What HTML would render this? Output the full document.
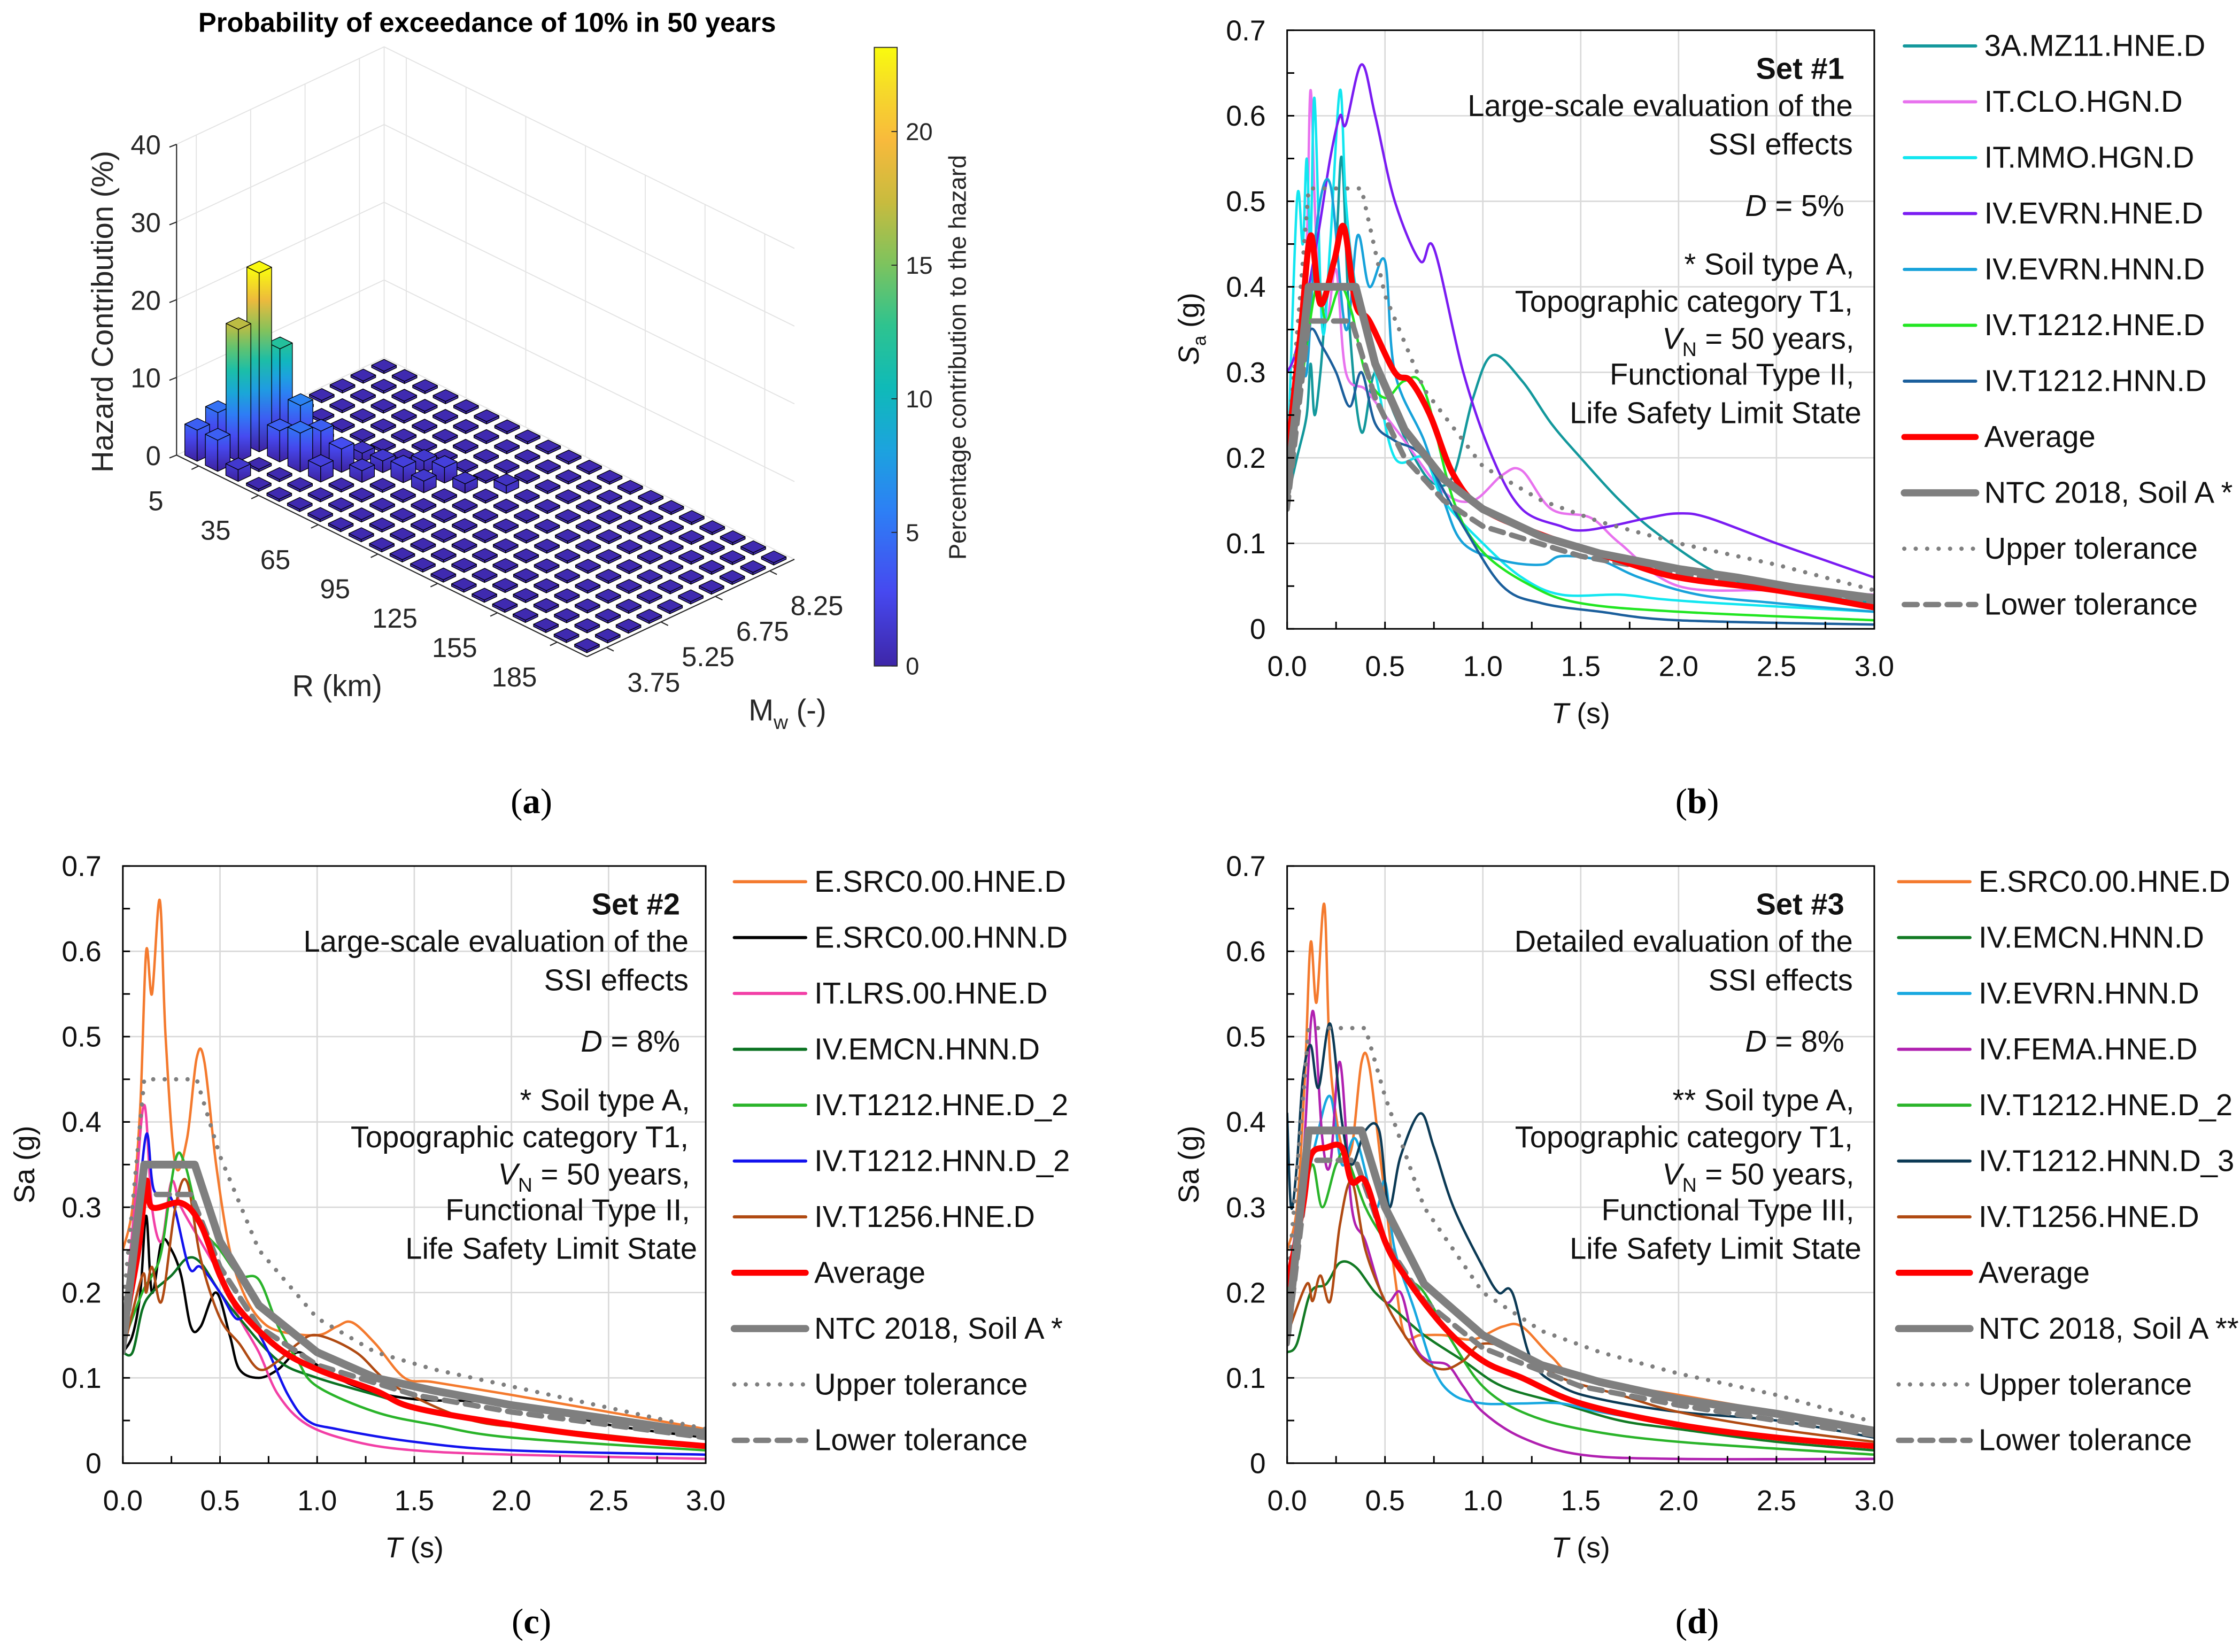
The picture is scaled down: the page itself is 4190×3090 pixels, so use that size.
<!DOCTYPE html>
<html><head><meta charset="utf-8">
<style>
html,body{margin:0;padding:0;background:#fff;}
svg{display:block;font-family:"Liberation Sans",sans-serif;}
</style></head>
<body>
<svg id="fig" width="4190" height="3090" viewBox="0 0 1568 1156" xmlns="http://www.w3.org/2000/svg">
<defs>
<linearGradient id="cbgrad" x1="0" y1="1" x2="0" y2="0"></linearGradient>
</defs>
<rect x="0" y="0" width="1568" height="1156" fill="#fff"/>

<g id="panelA">
<text x="341" y="22" font-size="19" font-weight="bold" text-anchor="middle">Probability of exceedance of 10% in 50 years</text>
<text transform="translate(79,218) rotate(-90)" font-size="21" text-anchor="middle" fill="#262626">Hazard Contribution (%)</text>
<text x="236" y="487" font-size="21" text-anchor="middle" fill="#262626">R (km)</text>
<text x="524" y="504" font-size="21" fill="#262626">M<tspan font-size="14" dy="6">w</tspan><tspan dy="-6"> (-)</tspan></text>
<text transform="translate(676,250) rotate(-90)" font-size="17" text-anchor="middle" fill="#262626">Percentage contribution to the hazard</text>
</g>

<g id="notes" font-size="21" fill="#111" text-anchor="end">
<g>
<text x="1291" y="55" font-weight="bold">Set #1</text>
<text x="1297" y="81">Large-scale evaluation of the</text>
<text x="1297" y="108">SSI effects</text>
<text x="1291" y="151"><tspan font-style="italic">D</tspan> = 5%</text>
<text x="1298" y="192">* Soil type A,</text>
<text x="1297" y="218">Topographic category T1,</text>
<text x="1298" y="244"><tspan font-style="italic">V</tspan><tspan font-size="14" dy="5">N</tspan><tspan dy="-5"> = 50 years,</tspan></text>
<text x="1298" y="269">Functional Type II,</text>
<text x="1303" y="296">Life Safety Limit State</text>
</g>
<g transform="translate(-815,585)">
<text x="1291" y="55" font-weight="bold">Set #2</text>
<text x="1297" y="81">Large-scale evaluation of the</text>
<text x="1297" y="108">SSI effects</text>
<text x="1291" y="151"><tspan font-style="italic">D</tspan> = 8%</text>
<text x="1298" y="192">* Soil type A,</text>
<text x="1297" y="218">Topographic category T1,</text>
<text x="1298" y="244"><tspan font-style="italic">V</tspan><tspan font-size="14" dy="5">N</tspan><tspan dy="-5"> = 50 years,</tspan></text>
<text x="1298" y="269">Functional Type II,</text>
<text x="1303" y="296">Life Safety Limit State</text>
</g>
<g transform="translate(0,585)">
<text x="1291" y="55" font-weight="bold">Set #3</text>
<text x="1297" y="81">Detailed evaluation of the</text>
<text x="1297" y="108">SSI effects</text>
<text x="1291" y="151"><tspan font-style="italic">D</tspan> = 8%</text>
<text x="1298" y="192">** Soil type A,</text>
<text x="1297" y="218">Topographic category T1,</text>
<text x="1298" y="244"><tspan font-style="italic">V</tspan><tspan font-size="14" dy="5">N</tspan><tspan dy="-5"> = 50 years,</tspan></text>
<text x="1298" y="269">Functional Type III,</text>
<text x="1303" y="296">Life Safety Limit State</text>
</g>
</g>

<g font-family="Liberation Serif, serif" font-size="25" text-anchor="middle" fill="#000">
<text x="372" y="569">(<tspan font-weight="bold">a</tspan>)</text>
<text x="1188" y="569">(<tspan font-weight="bold">b</tspan>)</text>
<text x="372" y="1143">(<tspan font-weight="bold">c</tspan>)</text>
<text x="1188" y="1143">(<tspan font-weight="bold">d</tspan>)</text>
</g>
</svg>

<script>
// ================= DATA: panel (a) 3D histogram =================
const rCenters = [5,15,25,35,45,55,65,75,85,95,105,115,125,135,145,155,165,175,185,195];
const mwCenters = [3.75,4.25,4.75,5.25,5.75,6.25,6.75,7.25,7.75,8.25];
const barR  = [5,5,15,15,15,15,25,25,25,35,35,45,45,55,55,65,75,65,85,75,45,95];
const barMw = [3.75,4.25,3.75,4.25,4.75,5.25,4.75,5.25,3.75,4.75,5.25,4.75,5.25,5.25,5.75,5.75,6.25,6.25,6.25,5.75,5.75,6.75];
const barVal= [4,5,4,17,23,12,4,6,1.5,5,4,2,3,1.5,1.5,2,2,1.5,1.2,1.5,1.2,1];
const floorVal = 0.3;
const zTicks = [0,10,20,30,40];
const rTicks = [5,35,65,95,125,155,185];
const mwTicks = [3.75,5.25,6.75,8.25];
const cbTicks = [0,5,10,15,20];
const cbMax = 23.15;

// ================= DATA: panel (b) =================
const b_mz11_T  = [0,0.05,0.1,0.12,0.14,0.17,0.2,0.25,0.28,0.32,0.38,0.45,0.55,0.65,0.75,0.85,0.95,1.05,1.2,1.35,1.5,1.7,1.9,2.2,2.5,3.0];
const b_mz11_Sa = [0.15,0.2,0.25,0.31,0.25,0.3,0.38,0.45,0.55,0.35,0.23,0.3,0.25,0.2,0.17,0.18,0.27,0.32,0.29,0.24,0.2,0.15,0.11,0.065,0.045,0.03];
const b_clo_T  = [0,0.06,0.1,0.12,0.15,0.2,0.25,0.3,0.4,0.5,0.6,0.8,0.95,1.1,1.2,1.35,1.55,1.7,2.0,2.5,3.0];
const b_clo_Sa = [0.17,0.3,0.45,0.63,0.45,0.36,0.42,0.3,0.28,0.25,0.22,0.16,0.15,0.18,0.185,0.14,0.13,0.1,0.05,0.045,0.04];
const b_mmo_T  = [0,0.05,0.08,0.1,0.12,0.14,0.18,0.22,0.27,0.3,0.35,0.45,0.55,0.7,0.8,1.0,1.2,1.4,1.7,1.9,2.2,3.0];
const b_mmo_Sa = [0.17,0.5,0.45,0.55,0.45,0.62,0.35,0.45,0.63,0.5,0.4,0.3,0.2,0.2,0.15,0.1,0.06,0.04,0.04,0.035,0.03,0.02];
const b_evrnE_T  = [0,0.05,0.15,0.22,0.27,0.3,0.38,0.45,0.55,0.68,0.75,0.9,1.05,1.2,1.4,1.5,1.65,1.85,2.0,2.15,2.5,2.75,3.0];
const b_evrnE_Sa = [0.3,0.33,0.45,0.55,0.6,0.59,0.66,0.6,0.5,0.43,0.445,0.3,0.2,0.14,0.12,0.115,0.12,0.13,0.135,0.13,0.1,0.08,0.06];
const b_evrnN_T  = [0,0.06,0.1,0.15,0.22,0.3,0.36,0.42,0.5,0.55,0.7,0.8,0.9,1.1,1.3,1.4,1.6,1.8,2.1,2.5,3.0];
const b_evrnN_Sa = [0.17,0.33,0.3,0.47,0.52,0.35,0.46,0.4,0.43,0.3,0.22,0.15,0.1,0.08,0.075,0.085,0.08,0.06,0.04,0.03,0.02];
const b_t1212E_T  = [0,0.08,0.15,0.2,0.27,0.33,0.4,0.5,0.6,0.7,0.85,1.0,1.25,1.5,2.0,3.0];
const b_t1212E_Sa = [0.2,0.3,0.4,0.36,0.4,0.37,0.3,0.27,0.29,0.28,0.15,0.09,0.05,0.03,0.02,0.01];
const b_t1212N_T  = [0,0.07,0.12,0.18,0.25,0.32,0.38,0.45,0.55,0.7,0.9,1.1,1.3,1.6,2.0,3.0];
const b_t1212N_Sa = [0.17,0.3,0.35,0.33,0.3,0.26,0.3,0.24,0.22,0.2,0.12,0.05,0.03,0.02,0.01,0.005];
const b_avg_T  = [0,0.07,0.12,0.17,0.24,0.29,0.35,0.42,0.55,0.63,0.73,0.85,1.0,1.3,1.7,2.0,2.5,3.0];
const b_avg_Sa = [0.2,0.35,0.46,0.38,0.43,0.47,0.38,0.36,0.3,0.29,0.25,0.18,0.14,0.11,0.08,0.06,0.045,0.025];
const b_ntc_T  = [0,0.11,0.35,0.45,0.6,0.8,1.0,1.3,1.6,2.0,2.3,2.6,3.0];
const b_ntc_Sa = [0.16,0.4,0.4,0.31,0.233,0.175,0.14,0.108,0.088,0.07,0.06,0.048,0.036];
const b_up_T  = [0,0.11,0.38,0.5,0.7,1.0,1.3,1.6,2.0,2.5,3.0];
const b_up_Sa = [0.2,0.515,0.515,0.39,0.28,0.19,0.15,0.125,0.1,0.075,0.045];
const b_lo_T  = [0,0.11,0.33,0.45,0.6,0.8,1.0,1.5,2.0,2.5,3.0];
const b_lo_Sa = [0.14,0.36,0.36,0.27,0.2,0.15,0.12,0.085,0.065,0.045,0.03];

// ================= DATA: panel (c) =================
const c_srcE_T  = [0,0.05,0.09,0.12,0.15,0.19,0.22,0.27,0.33,0.38,0.42,0.48,0.55,0.62,0.7,0.8,1.0,1.1,1.18,1.3,1.45,1.6,2.0,2.5,3.0];
const c_srcE_Sa = [0.25,0.3,0.42,0.6,0.55,0.66,0.5,0.35,0.38,0.475,0.47,0.35,0.25,0.2,0.17,0.155,0.15,0.16,0.165,0.14,0.1,0.095,0.08,0.06,0.04];
const c_srcN_T  = [0,0.05,0.09,0.12,0.15,0.2,0.25,0.3,0.35,0.4,0.48,0.55,0.6,0.7,0.8,0.9,1.0,1.2,1.5,2.0,2.5,3.0];
const c_srcN_Sa = [0.13,0.15,0.2,0.29,0.2,0.26,0.25,0.22,0.16,0.16,0.2,0.15,0.11,0.1,0.11,0.13,0.115,0.09,0.075,0.07,0.045,0.03];
const c_lrs_T  = [0,0.06,0.11,0.15,0.2,0.25,0.3,0.4,0.5,0.6,0.7,0.8,0.95,1.2,1.5,2.0,3.0];
const c_lrs_Sa = [0.15,0.3,0.42,0.3,0.26,0.33,0.3,0.26,0.22,0.17,0.13,0.08,0.045,0.025,0.015,0.01,0.005];
const c_emcn_T  = [0,0.05,0.1,0.15,0.25,0.33,0.4,0.5,0.6,0.8,1.0,1.3,1.6,2.0,2.5,3.0];
const c_emcn_Sa = [0.13,0.13,0.18,0.2,0.22,0.24,0.235,0.2,0.17,0.12,0.1,0.08,0.06,0.045,0.03,0.02];
const c_t1212E_T  = [0,0.1,0.15,0.2,0.27,0.32,0.4,0.5,0.6,0.7,0.8,0.9,1.0,1.3,1.6,2.0,3.0];
const c_t1212E_Sa = [0.14,0.2,0.22,0.25,0.355,0.35,0.28,0.25,0.22,0.215,0.16,0.12,0.09,0.06,0.045,0.03,0.015];
const c_t1212N_T  = [0,0.06,0.12,0.16,0.25,0.34,0.4,0.5,0.58,0.65,0.75,0.85,0.95,1.1,1.5,2.0,3.0];
const c_t1212N_Sa = [0.13,0.25,0.385,0.32,0.31,0.23,0.23,0.2,0.17,0.17,0.13,0.08,0.05,0.04,0.025,0.015,0.01];
const c_t1256_T  = [0,0.1,0.12,0.15,0.2,0.27,0.33,0.4,0.5,0.6,0.7,0.8,0.9,1.0,1.2,1.4,1.8,2.2,2.6,3.0];
const c_t1256_Sa = [0.13,0.22,0.2,0.23,0.19,0.3,0.33,0.24,0.17,0.14,0.11,0.12,0.14,0.15,0.13,0.09,0.05,0.04,0.03,0.02];
const c_avg_T  = [0,0.08,0.12,0.15,0.3,0.4,0.5,0.6,0.8,1.0,1.3,1.5,2.0,2.5,3.0];
const c_avg_Sa = [0.15,0.25,0.33,0.3,0.305,0.28,0.22,0.18,0.135,0.11,0.085,0.065,0.045,0.03,0.02];
const c_ntc_T  = [0,0.11,0.37,0.5,0.7,1.0,1.3,1.6,2.0,2.5,3.0];
const c_ntc_Sa = [0.14,0.35,0.35,0.26,0.185,0.13,0.1,0.085,0.068,0.052,0.035];
const c_up_T  = [0,0.11,0.38,0.5,0.7,1.0,1.3,1.6,2.0,2.5,3.0];
const c_up_Sa = [0.18,0.45,0.45,0.36,0.25,0.17,0.13,0.11,0.09,0.065,0.04];
const c_lo_T  = [0,0.11,0.35,0.5,0.7,1.0,1.5,2.0,2.5,3.0];
const c_lo_Sa = [0.13,0.315,0.315,0.23,0.16,0.115,0.08,0.06,0.045,0.03];

// ================= DATA: panel (d) =================
const d_srcE_T  = [0,0.05,0.09,0.12,0.15,0.19,0.22,0.28,0.33,0.38,0.42,0.48,0.55,0.6,0.68,0.8,0.95,1.1,1.2,1.35,1.5,2.0,2.5,3.0];
const d_srcE_Sa = [0.25,0.3,0.45,0.61,0.54,0.655,0.47,0.37,0.37,0.47,0.465,0.35,0.22,0.15,0.15,0.15,0.145,0.16,0.16,0.125,0.1,0.08,0.06,0.04];
const d_emcn_T  = [0,0.05,0.12,0.2,0.27,0.35,0.45,0.55,0.7,0.9,1.1,1.4,1.7,2.0,2.5,3.0];
const d_emcn_Sa = [0.13,0.14,0.2,0.21,0.235,0.23,0.2,0.18,0.15,0.12,0.09,0.07,0.05,0.04,0.025,0.015];
const d_evrn_T  = [0,0.08,0.15,0.22,0.28,0.35,0.45,0.5,0.55,0.65,0.75,0.85,1.0,1.2,1.4,1.6,2.0,2.5,3.0];
const d_evrn_Sa = [0.17,0.3,0.38,0.43,0.35,0.38,0.3,0.33,0.25,0.18,0.11,0.08,0.07,0.07,0.07,0.06,0.045,0.03,0.02];
const d_fema_T  = [0,0.08,0.13,0.18,0.22,0.27,0.33,0.4,0.5,0.58,0.65,0.72,0.82,0.9,1.0,1.2,1.5,2.0,3.0];
const d_fema_Sa = [0.2,0.35,0.53,0.38,0.35,0.47,0.3,0.26,0.19,0.2,0.14,0.12,0.115,0.09,0.06,0.03,0.01,0.005,0.005];
const d_t1212E_T  = [0,0.08,0.13,0.18,0.25,0.3,0.4,0.5,0.6,0.7,0.85,1.0,1.2,1.5,2.0,3.0];
const d_t1212E_Sa = [0.2,0.3,0.35,0.3,0.35,0.36,0.3,0.26,0.22,0.2,0.14,0.09,0.06,0.04,0.025,0.01];
const d_t1212N_T  = [0,0.02,0.05,0.08,0.12,0.16,0.22,0.28,0.33,0.4,0.47,0.52,0.58,0.68,0.75,0.85,1.0,1.08,1.15,1.25,1.4,1.6,2.0,2.5,3.0];
const d_t1212N_Sa = [0.41,0.3,0.35,0.45,0.49,0.44,0.515,0.4,0.35,0.39,0.39,0.3,0.36,0.41,0.37,0.3,0.23,0.2,0.2,0.12,0.09,0.075,0.06,0.05,0.03];
const d_t1256_T  = [0,0.1,0.13,0.17,0.22,0.27,0.33,0.4,0.5,0.6,0.7,0.8,0.9,1.0,1.2,1.4,1.7,2.0,2.5,3.0];
const d_t1256_Sa = [0.15,0.21,0.19,0.22,0.19,0.28,0.33,0.25,0.19,0.15,0.12,0.11,0.12,0.14,0.13,0.1,0.08,0.06,0.04,0.025];
const d_avg_T  = [0,0.08,0.12,0.2,0.28,0.33,0.4,0.5,0.6,0.8,1.0,1.2,1.5,2.0,2.5,3.0];
const d_avg_Sa = [0.21,0.3,0.36,0.37,0.37,0.33,0.33,0.26,0.22,0.16,0.12,0.1,0.07,0.045,0.03,0.02];
const d_ntc_T  = [0,0.11,0.38,0.5,0.7,1.0,1.3,1.6,2.0,2.5,3.0];
const d_ntc_Sa = [0.15,0.39,0.39,0.3,0.21,0.15,0.115,0.095,0.075,0.058,0.038];
const d_up_T  = [0,0.11,0.4,0.5,0.7,1.0,1.3,1.6,2.0,2.5,3.0];
const d_up_Sa = [0.2,0.51,0.51,0.43,0.3,0.2,0.155,0.13,0.105,0.08,0.048];
const d_lo_T  = [0,0.11,0.35,0.5,0.7,1.0,1.5,2.0,2.5,3.0];
const d_lo_Sa = [0.14,0.355,0.355,0.26,0.19,0.135,0.09,0.068,0.05,0.033];

const xTickLabels = ['0.0','0.5','1.0','1.5','2.0','2.5','3.0'];
const yTickLabels = ['0','0.1','0.2','0.3','0.4','0.5','0.6','0.7'];

// ================= helpers =================
const NS = 'http://www.w3.org/2000/svg';
const svg = document.getElementById('fig');
function mk(tag, attrs, parent) {
  const e = document.createElementNS(NS, tag);
  for (const k in attrs) e.setAttribute(k, attrs[k]);
  parent.appendChild(e);
  return e;
}
const parulaStops = [[0,'#3e26a8'],[0.12,'#4649f0'],[0.25,'#2d7ff5'],[0.35,'#1ca3de'],[0.45,'#0fbab8'],[0.55,'#2ec38f'],[0.65,'#7dc35e'],[0.75,'#c8bb3e'],[0.85,'#f8ba3c'],[0.93,'#f6d92a'],[1,'#f9fb0e']];
function hex2rgb(h){return [parseInt(h.substr(1,2),16),parseInt(h.substr(3,2),16),parseInt(h.substr(5,2),16)];}
function parula(t) {
  t = Math.max(0, Math.min(1, t));
  for (let i = 1; i < parulaStops.length; i++) {
    if (t <= parulaStops[i][0]) {
      const a = parulaStops[i-1], b = parulaStops[i];
      const f = (t - a[0]) / (b[0] - a[0]);
      const ca = hex2rgb(a[1]), cb = hex2rgb(b[1]);
      return 'rgb(' + ca.map((v,k)=>Math.round(v + (cb[k]-v)*f)).join(',') + ')';
    }
  }
  return parulaStops[parulaStops.length-1][1];
}
const defs = svg.querySelector('defs');
const cbg = document.getElementById('cbgrad');
parulaStops.forEach(s => mk('stop', {offset: s[0], 'stop-color': s[1]}, cbg));

// ================= panel (a) =================
const pA = document.getElementById('panelA');
const O = [123.6, 318.4], VR = [287.2, 141.1], VM = [145.3, -68.2], dZ = 5.44;
const fR = r => (r + 6.1) / 206;
const fM = m => (m - 3.206) / 5.725;
const cellR = r => ((r - 5) / 10 + 0.5) / rCenters.length;
const cellM = m => ((m - 3.75) / 0.5 + 0.5) / mwCenters.length;
function P(fr, fm, z) { return [O[0] + fr*VR[0] + fm*VM[0], O[1] + fr*VR[1] + fm*VM[1] - z*dZ]; }
function pts(arr) { return arr.map(p => p[0].toFixed(2) + ',' + p[1].toFixed(2)).join(' '); }

const walls = mk('g', {stroke: '#e3e3e3', 'stroke-width': 0.7, fill: 'none'}, pA);


zTicks.forEach(z => {
  const a = P(0,0,z), b = P(0,1,z), c = P(1,1,z);
  mk('polyline', {points: pts([a,b,c])}, walls);
});
mwTicks.forEach(m => { const a = P(0,fM(m),0), b = P(0,fM(m),40); mk('line', {x1:a[0],y1:a[1],x2:b[0],y2:b[1]}, walls); });
rTicks.forEach(r => { const a = P(fR(r),1,0), b = P(fR(r),1,40); mk('line', {x1:a[0],y1:a[1],x2:b[0],y2:b[1]}, walls); });
{ const a = P(0,1,0), b = P(0,1,40); mk('line', {x1:a[0],y1:a[1],x2:b[0],y2:b[1]}, walls); }

const axes3 = mk('g', {stroke: '#262626', 'stroke-width': 0.8, fill: 'none'}, pA);


{ const a = P(0,0,0), b = P(0,0,40); mk('line', {x1:a[0],y1:a[1],x2:b[0],y2:b[1]}, axes3);
  const c = P(1,0,0), d = P(1,1,0); mk('line', {x1:a[0],y1:a[1],x2:c[0],y2:c[1]}, axes3); mk('line', {x1:c[0],y1:c[1],x2:d[0],y2:d[1]}, axes3); }
const lblA = mk('g', {'font-size': 19, fill: '#262626'}, pA);


zTicks.forEach(z => {
  const a = P(0,0,z);
  mk('line', {x1:a[0],y1:a[1],x2:a[0]-5,y2:a[1]+2, stroke:'#262626','stroke-width':0.8}, lblA);
  const t = mk('text', {x: a[0]-11, y: a[1]+7, 'text-anchor': 'end'}, lblA);
  t.textContent = z;
  
});
rTicks.forEach(r => {
  const a = P(fR(r),0,0);
  mk('line', {x1:a[0],y1:a[1],x2:a[0]-5,y2:a[1]+2.4, stroke:'#262626','stroke-width':0.8}, lblA);
  const t = mk('text', {x: a[0]-30, y: a[1]+31, 'text-anchor': 'middle'}, lblA);
  t.textContent = r;
  
});
mwTicks.forEach(m => {
  const a = P(1,fM(m),0);
  mk('line', {x1:a[0],y1:a[1],x2:a[0]+5,y2:a[1]+2.5, stroke:'#262626','stroke-width':0.8}, lblA);
  const t = mk('text', {x: a[0]+33, y: a[1]+31, 'text-anchor': 'middle'}, lblA);
  t.textContent = m.toFixed(2);
  
});

// bars
const cells = [];
rCenters.forEach((r, i) => mwCenters.forEach((m, j) => {
  let v = floorVal;
  for (let k = 0; k < barR.length; k++) if (barR[k] === r && barMw[k] === m) v = barVal[k];
  cells.push({r, m, v, i, j});
}));
cells.sort((a, b) => (a.i - a.j) - (b.i - b.j) || (b.j - a.j));
const barsG = mk('g', {stroke: '#000', 'stroke-width': 0.5, 'stroke-linejoin': 'round'}, pA);


const hr = 0.3 / rCenters.length, hm = 0.3 / mwCenters.length;
let gid = 0;
function faceGrad(yb, yt, v) {
  const id = 'bg' + (gid++);
  const lg = mk('linearGradient', {id, gradientUnits: 'userSpaceOnUse', x1: 0, x2: 0, y1: yb, y2: yt}, defs);
  const n = 6;
  for (let s = 0; s <= n; s++) mk('stop', {offset: s/n, 'stop-color': parula((v * s / n) / cbMax)}, lg);
  return 'url(#' + id + ')';
}
cells.forEach(c => {
  const r0 = cellR(c.r) - hr, r1 = cellR(c.r) + hr, m0 = cellM(c.m) - hm, m1 = cellM(c.m) + hm, h = c.v;
  const g = mk('g', {}, barsG);
  
  
  const topCol = parula(h / cbMax);
  const fa = [P(r0,m0,0), P(r1,m0,0), P(r1,m0,h), P(r0,m0,h)];
  const fb = [P(r1,m0,0), P(r1,m1,0), P(r1,m1,h), P(r1,m0,h)];
  if (h > 1) {
    const ca = P((r0+r1)/2, m0, 0), cat = P((r0+r1)/2, m0, h);
    mk('polygon', {points: pts(fa), fill: faceGrad(ca[1], cat[1], h)}, g);
    const cb = P(r1, (m0+m1)/2, 0), cbt = P(r1, (m0+m1)/2, h);
    mk('polygon', {points: pts(fb), fill: faceGrad(cb[1], cbt[1], h)}, g);
  } else {
    mk('polygon', {points: pts(fa), fill: topCol}, g);
    mk('polygon', {points: pts(fb), fill: topCol}, g);
  }
  mk('polygon', {points: pts([P(r0,m0,h), P(r1,m0,h), P(r1,m1,h), P(r0,m1,h)]), fill: topCol}, g);
});

// colorbar
const cb = mk('g', {}, pA);


const cbY0 = 466, cbY1 = 33;
const cbY = v => cbY0 - v / cbMax * (cbY0 - cbY1);
mk('rect', {x: 612, y: cbY1, width: 16, height: cbY0 - cbY1, fill: 'url(#cbgrad)', stroke: '#262626', 'stroke-width': 0.7}, cb);
cbTicks.forEach(v => {
  mk('line', {x1: 624, x2: 628, y1: cbY(v), y2: cbY(v), stroke: '#262626', 'stroke-width': 0.7}, cb);
  const t = mk('text', {x: 634, y: cbY(v) + 6, 'font-size': 17, fill: '#262626'}, cb);
  t.textContent = v;
  
});

// ================= line-chart panels =================
function catmull(p) {
  let d = 'M' + p[0][0].toFixed(2) + ',' + p[0][1].toFixed(2);
  for (let i = 0; i < p.length - 1; i++) {
    const p0 = p[i-1] || p[i], p1 = p[i], p2 = p[i+1], p3 = p[i+2] || p2;
    const c1 = [p1[0] + (p2[0]-p0[0])/6, p1[1] + (p2[1]-p0[1])/6];
    const c2 = [p2[0] - (p3[0]-p1[0])/6, p2[1] - (p3[1]-p1[1])/6];
    d += 'C' + c1.map(v=>v.toFixed(2)).join(',') + ' ' + c2.map(v=>v.toFixed(2)).join(',') + ' ' + p2.map(v=>v.toFixed(2)).join(',');
  }
  return d;
}
const sThin = 1.7;
const STYLE_NTC = {color: '#7f7f7f', width: 5.5, dash: null, smooth: false};
const STYLE_UP = {color: '#7f7f7f', width: 3, dash: '0.01 8', smooth: false};
const STYLE_LO = {color: '#7f7f7f', width: 3.8, dash: '9 6', smooth: false};
const STYLE_AVG = {color: '#ff0000', width: 4.2, dash: null, smooth: true};

const panels = [
  {id: 'b', x0: 901, x1: 1312, yb: 440, yt: 21, legX: 1331, legY0: 32, ylab: [833, 230], ylabSub: true,
   series: [
    {name: '3A.MZ11.HNE.D', T: b_mz11_T, Sa: b_mz11_Sa, color: '#13989c'},
    {name: 'IT.CLO.HGN.D', T: b_clo_T, Sa: b_clo_Sa, color: '#e872ee'},
    {name: 'IT.MMO.HGN.D', T: b_mmo_T, Sa: b_mmo_Sa, color: '#12e6f0'},
    {name: 'IV.EVRN.HNE.D', T: b_evrnE_T, Sa: b_evrnE_Sa, color: '#7a1cf2'},
    {name: 'IV.EVRN.HNN.D', T: b_evrnN_T, Sa: b_evrnN_Sa, color: '#17a2da'},
    {name: 'IV.T1212.HNE.D', T: b_t1212E_T, Sa: b_t1212E_Sa, color: '#22e622'},
    {name: 'IV.T1212.HNN.D', T: b_t1212N_T, Sa: b_t1212N_Sa, color: '#1b5f9c'},
    {name: 'Average', T: b_avg_T, Sa: b_avg_Sa, st: STYLE_AVG},
    {name: 'NTC 2018, Soil A *', T: b_ntc_T, Sa: b_ntc_Sa, st: STYLE_NTC},
    {name: 'Upper tolerance', T: b_up_T, Sa: b_up_Sa, st: STYLE_UP},
    {name: 'Lower tolerance', T: b_lo_T, Sa: b_lo_Sa, st: STYLE_LO}]},
  {id: 'c', x0: 86, x1: 494, yb: 1024, yt: 606, legX: 512, legY0: 617, ylab: [18, 815], ylabSub: false,
   series: [
    {name: 'E.SRC0.00.HNE.D', T: c_srcE_T, Sa: c_srcE_Sa, color: '#f47a2e'},
    {name: 'E.SRC0.00.HNN.D', T: c_srcN_T, Sa: c_srcN_Sa, color: '#000000'},
    {name: 'IT.LRS.00.HNE.D', T: c_lrs_T, Sa: c_lrs_Sa, color: '#f23fa6'},
    {name: 'IV.EMCN.HNN.D', T: c_emcn_T, Sa: c_emcn_Sa, color: '#0b7222'},
    {name: 'IV.T1212.HNE.D_2', T: c_t1212E_T, Sa: c_t1212E_Sa, color: '#2ab42a'},
    {name: 'IV.T1212.HNN.D_2', T: c_t1212N_T, Sa: c_t1212N_Sa, color: '#1212ee'},
    {name: 'IV.T1256.HNE.D', T: c_t1256_T, Sa: c_t1256_Sa, color: '#b04a12'},
    {name: 'Average', T: c_avg_T, Sa: c_avg_Sa, st: STYLE_AVG},
    {name: 'NTC 2018, Soil A *', T: c_ntc_T, Sa: c_ntc_Sa, st: STYLE_NTC},
    {name: 'Upper tolerance', T: c_up_T, Sa: c_up_Sa, st: STYLE_UP},
    {name: 'Lower tolerance', T: c_lo_T, Sa: c_lo_Sa, st: STYLE_LO}]},
  {id: 'd', x0: 901, x1: 1312, yb: 1024, yt: 606, legX: 1327, legY0: 617, ylab: [833, 815], ylabSub: false,
   series: [
    {name: 'E.SRC0.00.HNE.D', T: d_srcE_T, Sa: d_srcE_Sa, color: '#f47a2e'},
    {name: 'IV.EMCN.HNN.D', T: d_emcn_T, Sa: d_emcn_Sa, color: '#127a24'},
    {name: 'IV.EVRN.HNN.D', T: d_evrn_T, Sa: d_evrn_Sa, color: '#18a8e0'},
    {name: 'IV.FEMA.HNE.D', T: d_fema_T, Sa: d_fema_Sa, color: '#b020b0'},
    {name: 'IV.T1212.HNE.D_2', T: d_t1212E_T, Sa: d_t1212E_Sa, color: '#2ab42a'},
    {name: 'IV.T1212.HNN.D_3', T: d_t1212N_T, Sa: d_t1212N_Sa, color: '#0c3a55'},
    {name: 'IV.T1256.HNE.D', T: d_t1256_T, Sa: d_t1256_Sa, color: '#b04a12'},
    {name: 'Average', T: d_avg_T, Sa: d_avg_Sa, st: STYLE_AVG},
    {name: 'NTC 2018, Soil A **', T: d_ntc_T, Sa: d_ntc_Sa, st: STYLE_NTC},
    {name: 'Upper tolerance', T: d_up_T, Sa: d_up_Sa, st: STYLE_UP},
    {name: 'Lower tolerance', T: d_lo_T, Sa: d_lo_Sa, st: STYLE_LO}]}
];

const notes = document.getElementById('notes');
panels.forEach(p => {
  const xs = T => p.x0 + T / 3 * (p.x1 - p.x0);
  const ys = v => p.yb - v / 0.7 * (p.yb - p.yt);
  const g = document.createElementNS(NS, 'g');
  svg.insertBefore(g, notes);
  
  
  const cp = mk('clipPath', {id: 'clip' + p.id}, defs);
  mk('rect', {x: p.x0, y: p.yt, width: p.x1 - p.x0, height: p.yb - p.yt}, cp);
  const grid = mk('g', {stroke: '#d9d9d9', 'stroke-width': 1}, g);
  
  
  for (let k = 1; k < 6; k++) mk('line', {x1: xs(k*0.5), x2: xs(k*0.5), y1: p.yt, y2: p.yb}, grid);
  for (let k = 1; k < 7; k++) mk('line', {x1: p.x0, x2: p.x1, y1: ys(k*0.1), y2: ys(k*0.1)}, grid);
  const sg = mk('g', {'clip-path': 'url(#clip' + p.id + ')', fill: 'none', 'stroke-linejoin': 'round', 'stroke-linecap': 'round'}, g);
  
  
  const order = [0,1,2,3,4,5,6,9,10,7,8];
  order.forEach(k => {
    const s = p.series[k];
    const st = s.st || {color: s.color, width: sThin, dash: null, smooth: true};
    const pp = s.T.map((t, i) => [xs(t), ys(s.Sa[i])]);
    const d = st.smooth ? catmull(pp) : 'M' + pp.map(q => q[0].toFixed(2) + ',' + q[1].toFixed(2)).join('L');
    const path = mk('path', {d, stroke: st.color, 'stroke-width': st.width}, sg);
    if (st.dash) path.setAttribute('stroke-dasharray', st.dash);
    
    
  });
  const fr = mk('g', {stroke: '#000', 'stroke-width': 1.1, fill: 'none'}, g);
  
  
  mk('rect', {x: p.x0, y: p.yt, width: p.x1 - p.x0, height: p.yb - p.yt}, fr);
  for (let k = 0; k <= 12; k++) mk('line', {x1: xs(k*0.25), x2: xs(k*0.25), y1: p.yb, y2: p.yb - 5}, fr);
  for (let k = 0; k <= 14; k++) mk('line', {x1: p.x0, x2: p.x0 + 5, y1: ys(k*0.05), y2: ys(k*0.05)}, fr);
  const tl = mk('g', {'font-size': 20, fill: '#111'}, g);
  
  
  xTickLabels.forEach((lab, k) => {
    const t = mk('text', {x: xs(k*0.5), y: p.yb + 33, 'text-anchor': 'middle'}, tl);
    t.textContent = lab;
    
  });
  yTickLabels.forEach((lab, k) => {
    const t = mk('text', {x: p.x0 - 15, y: ys(k*0.1) + 7, 'text-anchor': 'end'}, tl);
    t.textContent = lab;
    
  });
  const xt = mk('text', {x: (p.x0 + p.x1)/2, y: p.yb + 66, 'text-anchor': 'middle', 'font-size': 20, fill: '#111'}, g);
  xt.innerHTML = '<tspan font-style="italic">T</tspan> (s)';
  
  
  const yt = mk('text', {transform: 'translate(' + (p.ylab[0] + 6) + ',' + p.ylab[1] + ') rotate(-90)', 'text-anchor': 'middle', 'font-size': 20, fill: '#111'}, g);
  yt.innerHTML = p.ylabSub ? '<tspan font-style="italic">S</tspan><tspan font-size="13" dy="5">a</tspan><tspan dy="-5"> (g)</tspan>' : 'Sa (g)';
  
  
  const lg = mk('g', {}, g);
  
  
  p.series.forEach((s, k) => {
    const st = s.st || {color: s.color, width: 2.2, dash: null};
    const y = p.legY0 + k * 39.1;
    const e = mk('g', {}, lg);
    
    
    const ln = mk('line', {x1: p.legX + 2, x2: p.legX + 52, y1: y, y2: y, stroke: st.color, 'stroke-width': Math.min(st.width, 5), 'stroke-linecap': 'round'}, e);
    if (st.dash) ln.setAttribute('stroke-dasharray', st.dash);
    const t = mk('text', {x: p.legX + 58, y: y + 7, 'font-size': 21, fill: '#111'}, e);
    t.textContent = s.name;
  });
});
</script>
</body></html>
